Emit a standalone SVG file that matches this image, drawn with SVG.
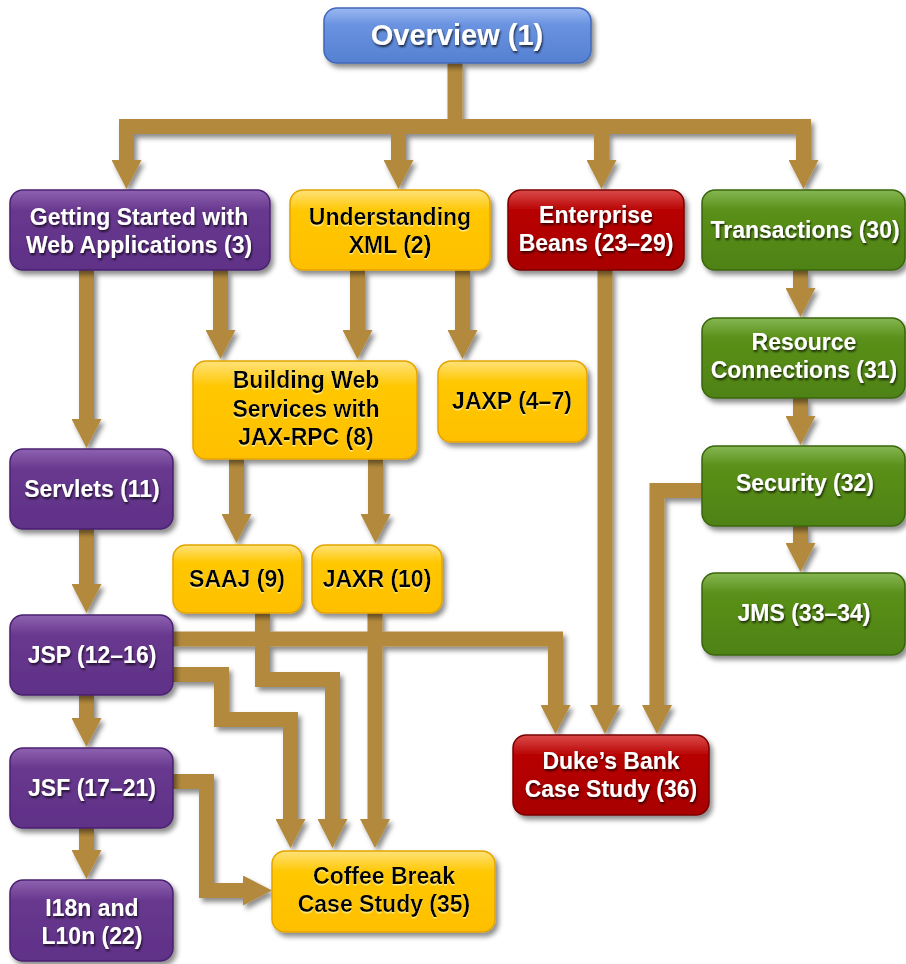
<svg xmlns="http://www.w3.org/2000/svg" width="906" height="964" viewBox="0 0 906 964">
<defs>
<linearGradient id="gBlue" x1="0" y1="0" x2="0" y2="1"><stop offset="0" stop-color="#9ab9f2"/><stop offset="0.3" stop-color="#6a93e0"/><stop offset="1" stop-color="#5580d2"/></linearGradient>
<linearGradient id="gPurple" x1="0" y1="0" x2="0" y2="1"><stop offset="0" stop-color="#8e62b0"/><stop offset="0.25" stop-color="#68398f"/><stop offset="1" stop-color="#5f3087"/></linearGradient>
<linearGradient id="gYellow" x1="0" y1="0" x2="0" y2="1"><stop offset="0" stop-color="#ffe27a"/><stop offset="0.25" stop-color="#ffc805"/><stop offset="1" stop-color="#ffbf00"/></linearGradient>
<linearGradient id="gRed" x1="0" y1="0" x2="0" y2="1"><stop offset="0" stop-color="#dc4a4a"/><stop offset="0.25" stop-color="#b80404"/><stop offset="1" stop-color="#a80000"/></linearGradient>
<linearGradient id="gGreen" x1="0" y1="0" x2="0" y2="1"><stop offset="0" stop-color="#86b652"/><stop offset="0.25" stop-color="#5a901a"/><stop offset="1" stop-color="#4e8212"/></linearGradient>
<filter id="sh" x="-10%" y="-10%" width="130%" height="140%"><feDropShadow dx="3" dy="4" stdDeviation="2.5" flood-color="#000" flood-opacity="0.45"/></filter>
<filter id="tsh" x="-10%" y="-20%" width="120%" height="150%"><feDropShadow dx="1" dy="2" stdDeviation="1" flood-color="#000" flood-opacity="0.7"/></filter>
<filter id="tshl" x="-10%" y="-20%" width="120%" height="150%"><feDropShadow dx="0" dy="1.5" stdDeviation="0.6" flood-color="#fff3a0" flood-opacity="0.8"/></filter>
<marker id="ah" markerUnits="userSpaceOnUse" markerWidth="30" markerHeight="30" viewBox="0 0 29 30" refX="0" refY="15" orient="auto"><path d="M0,0 L29,15 L0,30 Z" fill="#b38a3c"/></marker>
</defs>
<style>
.c{fill:none;stroke:#b38a3c;stroke-width:15;stroke-linejoin:miter;stroke-linecap:butt}
.a{marker-end:url(#ah)}
.n rect{stroke-width:1.5}
.blue rect{fill:url(#gBlue);stroke:#4068b8}
.purple rect{fill:url(#gPurple);stroke:#4a2070}
.yellow rect{fill:url(#gYellow);stroke:#e3a400}
.red rect{fill:url(#gRed);stroke:#7a0000}
.green rect{fill:url(#gGreen);stroke:#3a660a}
text{font-family:"Liberation Sans",Arial,Helvetica,sans-serif;font-weight:bold;font-size:23px;text-anchor:middle}
.w text{fill:#fff;filter:url(#tsh)}
.yellow text{fill:#000;filter:url(#tshl)}
</style>
<g id="connectors" filter="url(#sh)">
<path class="c" d="M455,63 V134"/>
<path class="c a" d="M455,126.5 H126.5 V160"/>
<path class="c a" d="M455,126.5 H803.5 V160"/>
<path class="c a" d="M398.5,126.5 V160"/>
<path class="c a" d="M601.5,126.5 V160"/>
<path class="c a" d="M86.5,270 V419"/>
<path class="c a" d="M220.5,270 V330"/>
<path class="c a" d="M357.5,270 V330"/>
<path class="c a" d="M462.5,270 V330"/>
<path class="c a" d="M605,270 V705"/>
<path class="c a" d="M800.5,270 V288"/>
<path class="c a" d="M800.5,398 V416"/>
<path class="c a" d="M800.5,526 V543"/>
<path class="c a" d="M702,490.5 H657 V705"/>
<path class="c a" d="M236.5,459 V514"/>
<path class="c a" d="M375.5,459 V514"/>
<path class="c a" d="M86.5,529 V584"/>
<path class="c a" d="M173,639 H555.5 V705"/>
<path class="c a" d="M173,674.5 H221.5 V719.5 H290.5 V819"/>
<path class="c a" d="M262.5,613 V679.5 H332.5 V819"/>
<path class="c a" d="M375,613 V819"/>
<path class="c a" d="M86.5,695 V718"/>
<path class="c a" d="M86.5,828 V850"/>
<path class="c a" d="M173,781.5 H206.5 V890.5 H243"/>
</g>
<g id="overview" class="n blue w" filter="url(#sh)"><rect x="324" y="8" width="267" height="55" rx="13"/><text x="457" y="45" style="font-size:29px">Overview (1)</text></g>
<g id="getting-started" class="n purple w" filter="url(#sh)"><rect x="10" y="190" width="260" height="80" rx="13"/><text x="139" y="225">Getting Started with</text><text x="139" y="253">Web Applications (3)</text></g>
<g id="understanding-xml" class="n yellow" filter="url(#sh)"><rect x="290" y="190" width="200" height="80" rx="13"/><text x="390" y="225">Understanding</text><text x="390" y="253">XML (2)</text></g>
<g id="enterprise-beans" class="n red w" filter="url(#sh)"><rect x="508" y="190" width="176" height="80" rx="13"/><text x="596" y="223">Enterprise</text><text x="596" y="251">Beans (23–29)</text></g>
<g id="transactions" class="n green w" filter="url(#sh)"><rect x="702" y="190" width="203" height="80" rx="13"/><text x="805" y="238">Transactions (30)</text></g>
<g id="building-web-services" class="n yellow" filter="url(#sh)"><rect x="193" y="361" width="224" height="98" rx="13"/><text x="306" y="388">Building Web</text><text x="306" y="417">Services with</text><text x="306" y="445">JAX-RPC (8)</text></g>
<g id="jaxp" class="n yellow" filter="url(#sh)"><rect x="438" y="361" width="149" height="81" rx="13"/><text x="512" y="409">JAXP (4–7)</text></g>
<g id="resource-connections" class="n green w" filter="url(#sh)"><rect x="702" y="318" width="203" height="80" rx="13"/><text x="804" y="350">Resource</text><text x="804" y="378">Connections (31)</text></g>
<g id="security" class="n green w" filter="url(#sh)"><rect x="702" y="446" width="203" height="80" rx="13"/><text x="805" y="491">Security (32)</text></g>
<g id="jms" class="n green w" filter="url(#sh)"><rect x="702" y="573" width="203" height="82" rx="13"/><text x="804" y="621">JMS (33–34)</text></g>
<g id="servlets" class="n purple w" filter="url(#sh)"><rect x="10" y="449" width="163" height="80" rx="13"/><text x="92" y="497">Servlets (11)</text></g>
<g id="saaj" class="n yellow" filter="url(#sh)"><rect x="173" y="545" width="129" height="68" rx="13"/><text x="237" y="587">SAAJ (9)</text></g>
<g id="jaxr" class="n yellow" filter="url(#sh)"><rect x="312" y="545" width="130" height="68" rx="13"/><text x="377" y="587">JAXR (10)</text></g>
<g id="jsp" class="n purple w" filter="url(#sh)"><rect x="10" y="615" width="163" height="80" rx="13"/><text x="92" y="663">JSP (12–16)</text></g>
<g id="jsf" class="n purple w" filter="url(#sh)"><rect x="10" y="748" width="163" height="80" rx="13"/><text x="92" y="796">JSF (17–21)</text></g>
<g id="i18n" class="n purple w" filter="url(#sh)"><rect x="10" y="880" width="163" height="81" rx="13"/><text x="92" y="916">I18n and</text><text x="92" y="944">L10n (22)</text></g>
<g id="dukes-bank" class="n red w" filter="url(#sh)"><rect x="513" y="735" width="196" height="80" rx="13"/><text x="611" y="769">Duke’s Bank</text><text x="611" y="797">Case Study (36)</text></g>
<g id="coffee-break" class="n yellow" filter="url(#sh)"><rect x="272" y="851" width="223" height="81" rx="13"/><text x="384" y="884">Coffee Break</text><text x="384" y="912">Case Study (35)</text></g>
</svg>
